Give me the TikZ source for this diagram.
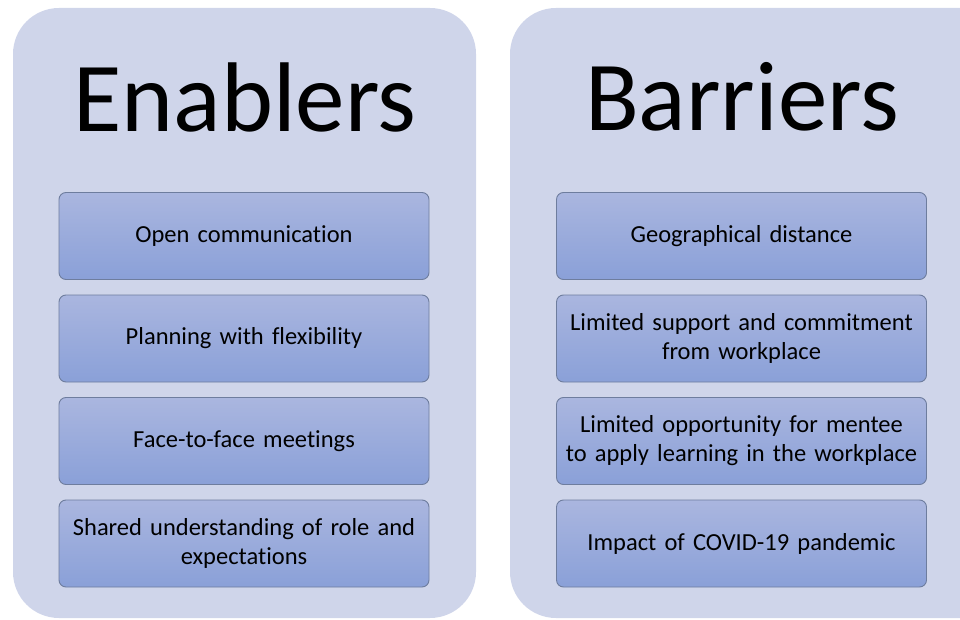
\documentclass[tikz,border=0pt]{standalone}
\usepackage{fontspec}
\setmainfont[Ligatures={NoCommon}]{Carlito}
\begin{document}
\begin{tikzpicture}[x=1pt,y=-1pt,
  panel/.style={fill=panelc, draw=none, rounded corners=46pt},
  item/.style={draw=itemborder, line width=0.9pt, rounded corners=7pt,
    top color=itemtop, bottom color=itembot, minimum width=370pt, minimum height=87pt,
    align=center, text width=366pt, font=\fontsize{24.5}{29}\selectfont, inner sep=0pt},
  title/.style={font=\fontsize{99}{100}\selectfont, inner sep=0pt}]
\definecolor{panelc}{HTML}{CFD5EA}
\definecolor{itemborder}{HTML}{6E7D9E}
\definecolor{itemtop}{HTML}{AAB6DF}
\definecolor{itembot}{HTML}{8AA0D8}
\useasboundingbox (0,0) rectangle (960,620);
\fill[panelc, rounded corners=46pt] (13,8) rectangle (476,618);
\fill[panelc, rounded corners=46pt] (510,8) rectangle (1006,618);
\node[title] (t1) at (245,97) {Enablers};
\node[title] (t2) at (742,97) {Barriers};
\node[item] (e1) at (244,236) {Open communication};
\node[item] (e2) at (244,338.5) {Planning with flexibility};
\node[item] (e3) at (244,441) {Face-to-face meetings};
\node[item] (e4) at (244,543.5) {Shared understanding of role and\\expectations};
\node[item] (b1) at (741.5,236) {Geographical distance};
\node[item] (b2) at (741.5,338.5) {Limited support and commitment\\from workplace};
\node[item] (b3) at (741.5,441) {Limited opportunity for mentee\\to apply learning in the workplace};
\node[item] (b4) at (741.5,543.5) {Impact of COVID-19 pandemic};
\end{tikzpicture}
\end{document}
